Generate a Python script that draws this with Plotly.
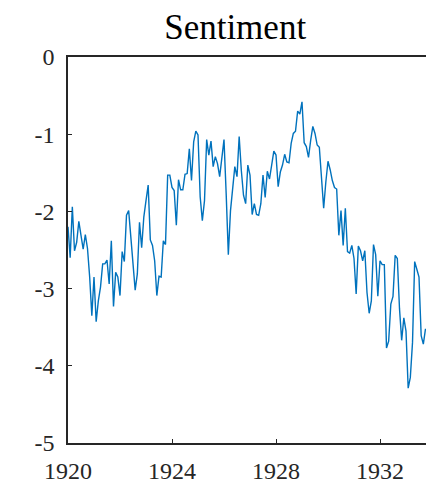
import plotly.graph_objects as go

start_year = 1920
sentiment = [
    -2.20, -2.60, -1.94, -2.51, -2.40, -2.13, -2.31, -2.49, -2.30, -2.48, -2.85, -3.35,
    -2.85, -3.43, -3.16, -2.98, -2.68, -2.68, -2.63, -2.94, -2.38, -3.23, -2.79, -2.85,
    -3.09, -2.52, -2.65, -2.05,
    -1.99, -2.35, -2.70, -3.02, -2.81, -2.14, -2.47, -2.07, -1.86, -1.66, -2.37, -2.44,
    -2.64, -3.09, -2.84, -2.85, -2.38, -2.43, -1.53, -1.53, -1.69, -1.73, -2.18, -1.59,
    -1.72, -1.72, -1.52, -1.51,
    -1.19, -1.60, -1.10, -0.96, -1.01, -1.81, -2.12, -1.86, -1.07, -1.27, -1.09, -1.42,
    -1.29, -1.38, -1.55, -1.29, -1.07, -1.77, -2.56, -1.99, -1.66, -1.42, -1.55, -1.03,
    -1.47, -1.79, -1.90,
    -1.40, -1.53, -2.04, -1.90, -2.04, -2.05, -1.90, -1.53, -1.82, -1.48, -1.58, -1.40,
    -1.22, -1.27, -1.68, -1.49, -1.40, -1.26, -1.36, -1.37, -1.12, -0.99, -0.96, -0.70,
    -0.74, -0.58, -1.11, -1.16,
    -1.30, -1.08, -0.90, -0.99, -1.14, -1.17, -1.55, -1.96, -1.62, -1.35, -1.46, -1.60,
    -1.69, -1.71, -2.31, -1.99, -2.44, -1.96, -2.52, -2.54, -2.44, -2.61, -3.07, -2.45,
    -2.51, -2.64, -2.51,
    -3.05, -3.32, -3.16, -2.43, -2.56, -3.10, -2.64, -2.69, -2.69, -3.77, -3.68, -3.20,
    -3.10, -2.57, -2.61, -3.26, -3.67, -3.38, -3.55, -4.29, -4.15, -3.70, -2.65, -2.75,
    -2.85, -3.61, -3.72, -3.52,
]
years = [start_year + i / 12 for i in range(len(sentiment))]

x_ticks = [1920, 1924, 1928, 1932]
x_ticklabels = ["1920", "1924", "1928", "1932"]
y_ticks = [-5, -4, -3, -2, -1, 0]
y_ticklabels = ["-5", "-4", "-3", "-2", "-1", "0"]

FONT = "Liberation Serif"
AX = "#262626"
TICKFONT = dict(family=FONT, size=24, color=AX)

fig = go.Figure()
fig.add_trace(go.Scatter(
    x=years, y=sentiment, mode="lines",
    line=dict(color="#0072BD", width=1.4),
    hoverinfo="skip", showlegend=False,
))

fig.update_layout(
    width=426, height=484,
    margin=dict(l=68, r=0, t=57, b=41, autoexpand=False),
    paper_bgcolor="white", plot_bgcolor="white",
    font=dict(family=FONT, size=24, color=AX),
    title=dict(text="Sentiment", font=dict(family=FONT, size=35, color="black"),
               x=0.552, xanchor="center", xref="container",
               y=0.945, yanchor="middle", yref="container", automargin=False),
)
fig.update_xaxes(
    range=[1920, 1920 + (426 - 68) / 26], tickvals=x_ticks, ticktext=x_ticklabels,
    tickfont=TICKFONT,
    showgrid=False, zeroline=False, showline=True, linecolor=AX, linewidth=1.6,
    mirror=True, ticks="inside", ticklen=4, tickwidth=1.2, tickcolor=AX,
    ticklabelstandoff=5, automargin=False,
)
fig.update_yaxes(
    range=[-5, 0], tickvals=y_ticks, ticktext=y_ticklabels,
    tickfont=TICKFONT,
    showgrid=False, zeroline=False, showline=True, linecolor=AX, linewidth=1.6,
    mirror=False, ticks="inside", ticklen=4, tickwidth=1.2, tickcolor=AX,
    ticklabelstandoff=7, automargin=False,
)

fig.write_html(
    "out.html",
    config={"displayModeBar": False},
    post_script="document.body.style.margin='0';document.body.style.padding='0';document.body.style.overflow='hidden';",
)
